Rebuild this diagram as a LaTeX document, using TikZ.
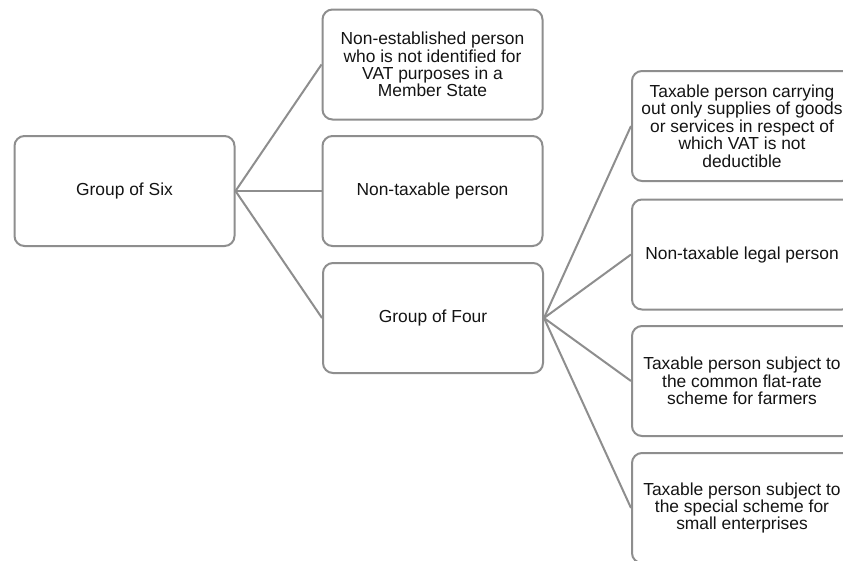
\documentclass[tikz,border=0pt]{standalone}
\usepackage{fontspec}
\setmainfont{Liberation Sans}
\begin{document}
\begin{tikzpicture}[x=1pt,y=-1pt,
  box/.style={draw=boxgray, line width=2pt, rounded corners=10pt, fill=white,
    minimum width=220pt, minimum height=110pt, inner sep=0pt, align=center,
    text=textdark, font=\fontsize{17.4}{17.4}\selectfont},
  link/.style={draw=boxgray, line width=2pt}]
\definecolor{boxgray}{HTML}{8E8E8E}
\definecolor{textdark}{HTML}{141414}
\useasboundingbox[fill=white] (0,0) rectangle (843,560);

% root and first level
\node[box] (six) at (124.5,191) {Group of Six};
\node[box] (nonest) at (432.5,64.5) {Non-established person\\who is not identified for\\VAT purposes in a\\Member State};
\node[box] (ntp) at (432.5,191) {Non-taxable person};
\node[box] (four) at (433,318) {Group of Four};

% second level (runs past the right edge)
\node[box] (r1) at (742,126) {Taxable person carrying\\out only supplies of goods\\or services in respect of\\which VAT is not\\deductible};
\node[box] (r2) at (742,254.5) {Non-taxable legal person};
\node[box] (r3) at (742,381) {Taxable person subject to\\the common flat-rate\\scheme for farmers};
\node[box] (r4) at (742,508) {Taxable person subject to\\the special scheme for\\small enterprises};

% connectors
\foreach \t in {nonest,ntp,four} \draw[link] (six.east) -- (\t.west);
\foreach \t in {r1,r2,r3,r4} \draw[link] (four.east) -- (\t.west);
\end{tikzpicture}
\end{document}
